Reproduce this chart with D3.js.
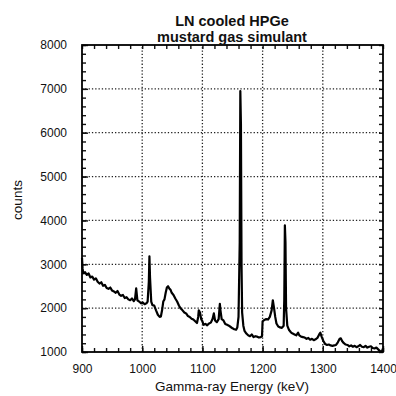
<!DOCTYPE html>
<html>
<head>
<meta charset="utf-8">
<script src="https://cdn.jsdelivr.net/npm/d3@7"></script>
<style>
  html, body { margin: 0; padding: 0; background: #fff; }
  svg { display: block; font-family: "Liberation Sans", Arial, Helvetica, sans-serif; }
</style>
</head>
<body>
<script>
// spectrum (keV, counts)
const energy = [
  900, 901, 902, 905, 908, 911, 914, 917, 920, 923, 926, 929, 932, 935, 938, 941, 944, 947, 950, 953,
  956, 959, 962, 965, 968, 971, 974, 977, 980, 983, 986, 988, 990, 992, 995, 998, 1001, 1004, 1007, 1009,
  1011, 1012, 1013, 1015, 1017, 1020, 1023, 1026, 1029, 1031, 1033, 1035, 1037, 1039, 1041, 1043, 1045, 1047, 1049, 1052,
  1055, 1058, 1061, 1064, 1067, 1070, 1073, 1076, 1079, 1082, 1085, 1088, 1091, 1093, 1094, 1096, 1098, 1100, 1102, 1105,
  1108, 1111, 1114, 1117, 1119, 1121, 1124, 1127, 1129, 1130, 1132, 1135, 1138, 1141, 1144, 1147, 1150, 1153, 1156, 1158,
  1160, 1162, 1163, 1164, 1165, 1166, 1168, 1170, 1173, 1176, 1179, 1182, 1185, 1188, 1191, 1194, 1197, 1199, 1200, 1203,
  1206, 1209, 1212, 1215, 1217, 1219, 1221, 1223, 1226, 1229, 1232, 1235, 1236, 1237, 1238, 1239, 1241, 1244, 1247, 1250,
  1253, 1256, 1259, 1261, 1264, 1267, 1270, 1273, 1276, 1279, 1282, 1285, 1288, 1291, 1294, 1296, 1298, 1301, 1304, 1307,
  1310, 1313, 1316, 1319, 1322, 1325, 1328, 1330, 1332, 1335, 1338, 1341, 1344, 1347, 1350, 1353, 1356, 1359, 1362, 1365,
  1368, 1371, 1374, 1377, 1380, 1383, 1386, 1389, 1392, 1395, 1398, 1400
];
const counts = [
  3150, 2900, 2800, 2820, 2760, 2790, 2700, 2720, 2650, 2680, 2600, 2560, 2590, 2510, 2530, 2460, 2440, 2470, 2400, 2380,
  2350, 2390, 2310, 2280, 2300, 2230, 2250, 2200, 2180, 2220, 2160, 2200, 2450, 2180, 2150, 2110, 2130, 2090, 2110, 2150,
  2600, 3180, 2700, 2150, 2070, 2060, 1950, 1850, 1800, 1810, 1950, 2150, 2200, 2350, 2470, 2500, 2450, 2420, 2350, 2300,
  2220, 2150, 2060, 1990, 1950, 1900, 1880, 1820, 1800, 1760, 1740, 1700, 1660, 1800, 1950, 1900, 1750, 1700, 1620, 1640,
  1610, 1650, 1670, 1760, 1880, 1720, 1680, 1750, 2100, 1950, 1750, 1720, 1640, 1620, 1600, 1570, 1540, 1520, 1510, 1560,
  1800, 3500, 6950, 6200, 3000, 1900, 1600, 1480, 1420, 1380, 1360, 1400, 1340, 1360, 1350, 1330, 1340, 1360, 1700, 1730,
  1750, 1740, 1800, 1950, 2180, 2000, 1800, 1650, 1580, 1560, 1550, 1600, 2200, 3890, 3500, 2000, 1600, 1500, 1450, 1420,
  1400, 1380, 1440, 1380, 1350, 1340, 1330, 1300, 1320, 1280, 1300, 1270, 1290, 1320, 1400, 1440, 1350, 1250, 1180, 1160,
  1170, 1150, 1140, 1150, 1160, 1220, 1300, 1310, 1250, 1200, 1170, 1160, 1130, 1150, 1120, 1140, 1110, 1130, 1160, 1120,
  1110, 1140, 1100, 1120, 1130, 1090, 1080, 1100, 1060, 1020, 1010, 1080
];

const xTicks = [900, 1000, 1100, 1200, 1300, 1400];
const yTicks = [1000, 2000, 3000, 4000, 5000, 6000, 7000, 8000];
const xGrid = [1000, 1100, 1200, 1300];
const yGrid = [2000, 3000, 4000, 5000, 6000, 7000];
const titleLines = ['LN cooled HPGe', 'mustard gas simulant'];

const W = 396, H = 396;
const margin = { top: 45, right: 13, bottom: 44, left: 82 };

const svg = d3.select('body').append('svg')
  .attr('width', W)
  .attr('height', H);

const x = d3.scaleLinear().domain([900, 1400]).range([margin.left, W - margin.right]);
const y = d3.scaleLinear().domain([1000, 8000]).range([H - margin.bottom, margin.top]);

// dotted grid
svg.append('g')
  .selectAll('line')
  .data(xGrid)
  .join('line')
  .attr('x1', d => x(d)).attr('x2', d => x(d))
  .attr('y1', y(1000)).attr('y2', y(8000))
  .attr('stroke', '#222')
  .attr('stroke-width', 1.3)
  .attr('stroke-dasharray', '1.3,2');

svg.append('g')
  .selectAll('line')
  .data(yGrid)
  .join('line')
  .attr('x1', x(900)).attr('x2', x(1400))
  .attr('y1', d => y(d)).attr('y2', d => y(d))
  .attr('stroke', '#222')
  .attr('stroke-width', 1.3)
  .attr('stroke-dasharray', '1.3,2');

// inward ticks on all four sides (minor every 20 keV / 200 counts)
const xMinor = d3.range(900, 1401, 20);
const yMinor = d3.range(1000, 8001, 200);

function styleAxis(g) {
  g.select('.domain').remove();
  g.selectAll('.tick line').attr('stroke', '#111').attr('stroke-width', 1.4);
}

svg.append('g')
  .attr('transform', `translate(0,${y(1000)})`)
  .call(d3.axisBottom(x).tickValues(xMinor).tickSize(-4).tickFormat(''))
  .call(styleAxis);
svg.append('g')
  .attr('transform', `translate(0,${y(8000)})`)
  .call(d3.axisTop(x).tickValues(xMinor).tickSize(-4).tickFormat(''))
  .call(styleAxis);
svg.append('g')
  .attr('transform', `translate(${x(900)},0)`)
  .call(d3.axisLeft(y).tickValues(yMinor).tickSize(-4).tickFormat(''))
  .call(styleAxis);
svg.append('g')
  .attr('transform', `translate(${x(1400)},0)`)
  .call(d3.axisRight(y).tickValues(yMinor).tickSize(-4).tickFormat(''))
  .call(styleAxis);

// labelled axes
const xAxis = svg.append('g')
  .attr('transform', `translate(0,${y(1000)})`)
  .call(d3.axisBottom(x).tickValues(xTicks).tickSize(-6).tickPadding(12).tickFormat(d3.format('d')));
xAxis.call(styleAxis);
xAxis.selectAll('text').attr('font-size', 12).attr('fill', '#111').attr('font-family', 'Liberation Sans, Arial, sans-serif');

const yAxis = svg.append('g')
  .attr('transform', `translate(${x(900)},0)`)
  .call(d3.axisLeft(y).tickValues(yTicks).tickSize(-6).tickPadding(15).tickFormat(d3.format('d')));
yAxis.call(styleAxis);
yAxis.selectAll('text').attr('font-size', 12).attr('fill', '#111').attr('font-family', 'Liberation Sans, Arial, sans-serif');

// spectrum
const line = d3.line()
  .x((d, i) => x(energy[i]))
  .y(d => y(d));

svg.append('path')
  .datum(counts)
  .attr('fill', 'none')
  .attr('stroke', '#000')
  .attr('stroke-width', 2.2)
  .attr('stroke-linejoin', 'round')
  .attr('d', line);

// frame
svg.append('rect')
  .attr('x', x(900)).attr('y', y(8000))
  .attr('width', x(1400) - x(900))
  .attr('height', y(1000) - y(8000))
  .attr('fill', 'none')
  .attr('stroke', '#000')
  .attr('stroke-width', 1.8);

// titles
svg.append('g')
  .selectAll('text')
  .data(titleLines)
  .join('text')
  .attr('x', 232)
  .attr('y', (d, i) => 26 + i * 16)
  .attr('text-anchor', 'middle')
  .attr('font-size', 14.5)
  .attr('font-weight', 'bold')
  .attr('fill', '#111')
  .text(d => d);

svg.append('text')
  .attr('x', 232)
  .attr('y', 391)
  .attr('text-anchor', 'middle')
  .attr('font-size', 13.5)
  .attr('fill', '#111')
  .text('Gamma-ray Energy (keV)');

svg.append('text')
  .attr('transform', 'translate(22,200) rotate(-90)')
  .attr('text-anchor', 'middle')
  .attr('font-size', 13.5)
  .attr('fill', '#111')
  .text('counts');
</script>
</body>
</html>
